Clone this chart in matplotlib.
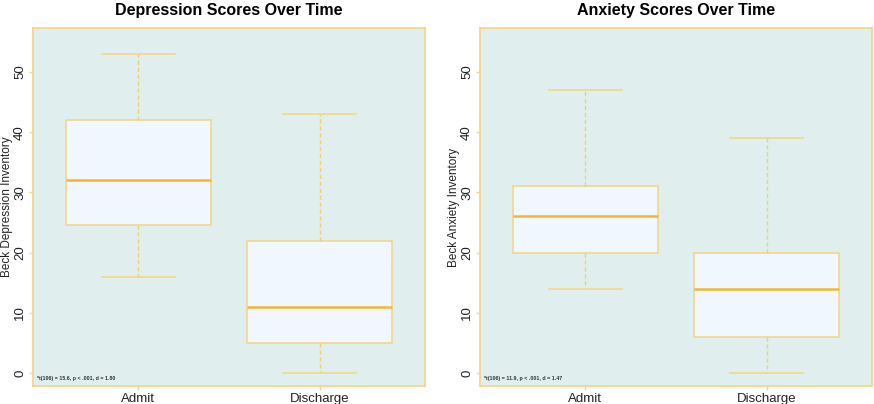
import numpy as np
import matplotlib.pyplot as plt

plt.rcParams['font.family'] = ['Liberation Sans', 'DejaVu Sans']

groups = ["Admit", "Discharge"]

# depression (BDI) box stats: whislo, q1, med, q3, whishi
dep_lo = [16, 0]
dep_q1 = [24.5, 5]
dep_med = [32, 11]
dep_q3 = [42, 22]
dep_hi = [53, 43]

# anxiety (BAI)
anx_lo = [14, 0]
anx_q1 = [20, 6]
anx_med = [26, 14]
anx_q3 = [31, 20]
anx_hi = [47, 39]

titles = ["Depression Scores Over Time", "Anxiety Scores Over Time"]
ylabels = ["Beck Depression Inventory", "Beck Anxiety Inventory"]
notes = ["*t(106) = 15.6, p < .001, d = 1.80", "*t(106) = 11.9, p < .001, d = 1.47"]

edge = "#f3d68c"
whisk = "#f0cf70"
med_col = "#f2b630"
bg = "#e0eeee"
fill = "#f0f7ff"

fig = plt.figure(figsize=(8.74, 4.04), dpi=100)
ax1 = fig.add_axes([33/874, 18/404, 392/874, 358/404])
ax2 = fig.add_axes([480/874, 18/404, 392/874, 358/404])

data = [(dep_lo, dep_q1, dep_med, dep_q3, dep_hi), (anx_lo, anx_q1, anx_med, anx_q3, anx_hi)]

for ax, d, t, yl, n in zip([ax1, ax2], data, titles, ylabels, notes):
    lo, q1, med, q3, hi = d
    stats = []
    for i in range(2):
        stats.append({"whislo": lo[i], "q1": q1[i], "med": med[i], "q3": q3[i],
                      "whishi": hi[i], "fliers": [], "label": groups[i]})
    ax.set_facecolor(bg)
    ax.bxp(stats, positions=[1, 2], widths=0.8, patch_artist=True, showfliers=False,
           boxprops=dict(facecolor=fill, edgecolor=edge, linewidth=1.2),
           medianprops=dict(color=med_col, linewidth=1.8),
           whiskerprops=dict(color=whisk, linewidth=1, linestyle=(0, (3, 2))),
           capprops=dict(color=edge, linewidth=1.2), capwidths=0.4)
    ax.set_xlim(0.42, 2.58)
    ax.set_ylim(-2.16, 57.3)
    ax.set_yticks([0, 10, 20, 30, 40, 50])
    for s in ax.spines.values():
        s.set_color(edge)
        s.set_linewidth(1.3)
    ax.tick_params(colors=edge, labelcolor="#222222", length=3, width=1, labelsize=9.5, pad=2)
    plt.setp(ax.get_yticklabels(), rotation=90, va="center")
    ax.set_ylabel(yl, fontsize=8.5, color="#222222", labelpad=1)
    ax.set_title(t, fontsize=11.5, fontweight="bold", pad=9)
    ax.text(0.01, 0.015, n, transform=ax.transAxes, fontsize=3.8, fontweight="bold",
            color="#333333", va="bottom", ha="left")

fig.savefig("out.png", dpi=100)
